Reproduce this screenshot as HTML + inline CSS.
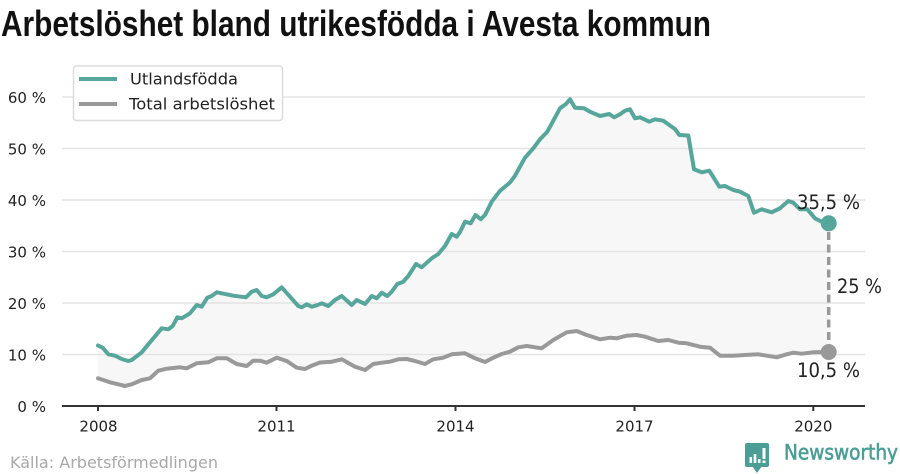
<!DOCTYPE html>
<html>
<head>
<meta charset="utf-8">
<style>
  html, body { margin: 0; padding: 0; background: #ffffff; }
  body { width: 900px; height: 474px; overflow: hidden; }
  svg { display: block; }
  text { font-family: "DejaVu Sans", "Liberation Sans", sans-serif; }
</style>
</head>
<body>
<svg width="900" height="474" viewBox="0 0 900 474" xmlns="http://www.w3.org/2000/svg">
  <!-- Title -->
  <text x="1" y="36" font-weight="bold" font-size="36" fill="#111" textLength="710" lengthAdjust="spacingAndGlyphs" style="font-family:'Liberation Sans',sans-serif">Arbetslöshet bland utrikesfödda i Avesta kommun</text>

  <!-- Fill between series -->
  <polygon fill="#f7f7f7" points="98,345.5 102.7,347.7 108.3,354.3 115,355.7 121.7,359 128.3,361 131.7,360 141.7,352.3 150,342.3 161.7,328.3 168.3,329.3 172.7,326 177.3,317.3 181.7,318.3 190,313.3 196.7,305 201.7,306.7 207.3,297.7 211.7,296 216.7,292.3 233.3,295.7 246,297.3 251.7,291.7 256.7,290 261.7,296 266.7,297.3 273.3,294.3 281.7,287.3 290,296.7 298.3,306 301.7,307.3 306.7,304.3 311.7,306.7 316.7,305.3 321.7,303.3 328.3,306 335,300 341.7,296 351.7,305 356.7,300 365,304 371.7,296 376.7,298.3 381.7,292.7 387.3,296 391.7,291.7 397.3,284 403.3,281.7 408.3,276 416,264 421.7,267.3 431.7,258.3 438.3,254 445,246 451.7,234 456.7,236.7 460,232 465,221.7 470.7,223.3 475.5,215 480.7,219.2 485,215 491.7,201.7 500,190.8 510,182.5 515,175.7 525,157.7 533.3,148.3 540,139.3 547.3,131.7 560,108.3 566,104 570,99.3 575,107.7 584,108.3 590,111.7 600,116 609.3,114 614,117.3 620,114.3 625,110.7 630,109.3 635,118.3 640,117.3 649.3,121.7 655,119.3 663.3,120.7 671.7,126.7 675,129 679.3,135 688.3,135.5 694,169.3 701.7,172.3 709.3,170.7 719.3,186.7 725,186 733.3,190 740,191.7 748.3,196 754,212.7 761.7,209.3 771.7,212.3 780,208.3 788.3,201 793.3,202.7 800,209.3 807.3,209.3 815,218.3 821.7,221.7 828.7,223.3 828.7,352 813.3,352.3 801.7,353.7 793.3,352.7 786.7,354.3 776.7,357.3 766.7,355.7 758.3,354.3 745,355 733.3,355.7 720,355.7 710,347.7 700,346.7 686.7,343.3 678.3,342.7 668.3,340 658.3,341 645,336.7 636.7,335 626.7,335.7 616.7,338.3 610,337.7 600,339.3 586.7,335 576.7,331 566.7,332.3 553.3,340 541.7,348.3 526.7,346 518.3,347.3 510,351.7 501.7,354 493.3,357.7 485,362 475,358.3 465,353.3 451.7,354.3 443.3,357.7 433.3,359.3 425,364 415,361 406.7,359 398.3,359.3 390,361.7 381.7,362.7 373.3,364 365,370 355,366.7 341.7,359.3 331.7,361.7 320,362.5 311.7,365.7 305,369 296.7,367.7 286.7,361 276.7,357.7 266.7,362.7 260,360.7 253.3,360.7 246.7,366 236.7,364 226.7,358.3 216.7,358.3 208.3,362.3 196.7,363.3 186.7,368.3 180,367.3 166.7,368.7 158.3,370.7 150,378.3 141.7,380 131.7,384.3 125,386 118.3,384.3 110,382.3 103.3,380 98,378.3"/>

  <!-- Gridlines -->
  <g stroke="#e4e4e4" stroke-width="1.6">
    <line x1="62" y1="97" x2="865" y2="97"/>
    <line x1="62" y1="148.5" x2="865" y2="148.5"/>
    <line x1="62" y1="200" x2="865" y2="200"/>
    <line x1="62" y1="251.5" x2="865" y2="251.5"/>
    <line x1="62" y1="303" x2="865" y2="303"/>
    <line x1="62" y1="354.5" x2="865" y2="354.5"/>
  </g>

  <!-- Y labels -->
  <g font-size="15" fill="#222" text-anchor="end">
    <text x="46" y="103">60 %</text>
    <text x="46" y="154.5">50 %</text>
    <text x="46" y="206">40 %</text>
    <text x="46" y="257.5">30 %</text>
    <text x="46" y="309">20 %</text>
    <text x="46" y="360.5">10 %</text>
    <text x="46" y="412">0 %</text>
  </g>

  <!-- X axis -->
  <line x1="62" y1="406" x2="865" y2="406" stroke="#333" stroke-width="2"/>
  <g stroke="#333" stroke-width="2">
    <line x1="98" y1="406" x2="98" y2="411"/>
    <line x1="276.5" y1="406" x2="276.5" y2="411"/>
    <line x1="455.5" y1="406" x2="455.5" y2="411"/>
    <line x1="634.5" y1="406" x2="634.5" y2="411"/>
    <line x1="813.3" y1="406" x2="813.3" y2="411"/>
  </g>
  <g font-size="15" fill="#222" text-anchor="middle">
    <text x="98.5" y="431.5">2008</text>
    <text x="276.5" y="431.5">2011</text>
    <text x="455.5" y="431.5">2014</text>
    <text x="634.5" y="431.5">2017</text>
    <text x="813.3" y="431.5">2020</text>
  </g>

  <!-- Gray series -->
  <polyline fill="none" stroke="#999999" stroke-width="4" stroke-linejoin="round" stroke-linecap="round" points="98,378.3 103.3,380 110,382.3 118.3,384.3 125,386 131.7,384.3 141.7,380 150,378.3 158.3,370.7 166.7,368.7 180,367.3 186.7,368.3 196.7,363.3 208.3,362.3 216.7,358.3 226.7,358.3 236.7,364 246.7,366 253.3,360.7 260,360.7 266.7,362.7 276.7,357.7 286.7,361 296.7,367.7 305,369 311.7,365.7 320,362.5 331.7,361.7 341.7,359.3 355,366.7 365,370 373.3,364 381.7,362.7 390,361.7 398.3,359.3 406.7,359 415,361 425,364 433.3,359.3 443.3,357.7 451.7,354.3 465,353.3 475,358.3 485,362 493.3,357.7 501.7,354 510,351.7 518.3,347.3 526.7,346 541.7,348.3 553.3,340 566.7,332.3 576.7,331 586.7,335 600,339.3 610,337.7 616.7,338.3 626.7,335.7 636.7,335 645,336.7 658.3,341 668.3,340 678.3,342.7 686.7,343.3 700,346.7 710,347.7 720,355.7 733.3,355.7 745,355 758.3,354.3 766.7,355.7 776.7,357.3 786.7,354.3 793.3,352.7 801.7,353.7 813.3,352.3 828.7,352"/>

  <!-- Teal series -->
  <polyline fill="none" stroke="#57a69b" stroke-width="4" stroke-linejoin="round" stroke-linecap="round" points="98,345.5 102.7,347.7 108.3,354.3 115,355.7 121.7,359 128.3,361 131.7,360 141.7,352.3 150,342.3 161.7,328.3 168.3,329.3 172.7,326 177.3,317.3 181.7,318.3 190,313.3 196.7,305 201.7,306.7 207.3,297.7 211.7,296 216.7,292.3 233.3,295.7 246,297.3 251.7,291.7 256.7,290 261.7,296 266.7,297.3 273.3,294.3 281.7,287.3 290,296.7 298.3,306 301.7,307.3 306.7,304.3 311.7,306.7 316.7,305.3 321.7,303.3 328.3,306 335,300 341.7,296 351.7,305 356.7,300 365,304 371.7,296 376.7,298.3 381.7,292.7 387.3,296 391.7,291.7 397.3,284 403.3,281.7 408.3,276 416,264 421.7,267.3 431.7,258.3 438.3,254 445,246 451.7,234 456.7,236.7 460,232 465,221.7 470.7,223.3 475.5,215 480.7,219.2 485,215 491.7,201.7 500,190.8 510,182.5 515,175.7 525,157.7 533.3,148.3 540,139.3 547.3,131.7 560,108.3 566,104 570,99.3 575,107.7 584,108.3 590,111.7 600,116 609.3,114 614,117.3 620,114.3 625,110.7 630,109.3 635,118.3 640,117.3 649.3,121.7 655,119.3 663.3,120.7 671.7,126.7 675,129 679.3,135 688.3,135.5 694,169.3 701.7,172.3 709.3,170.7 719.3,186.7 725,186 733.3,190 740,191.7 748.3,196 754,212.7 761.7,209.3 771.7,212.3 780,208.3 788.3,201 793.3,202.7 800,209.3 807.3,209.3 815,218.3 821.7,221.7 828.7,223.3"/>

  <!-- Dashed difference line -->
  <line x1="828.7" y1="232" x2="828.7" y2="344" stroke="#999999" stroke-width="3.5" stroke-dasharray="8,4.5"/>

  <!-- End dots -->
  <circle cx="828.7" cy="223.3" r="8" fill="#57a69b"/>
  <circle cx="828.7" cy="352" r="8" fill="#999999"/>

  <!-- Annotations -->
  <g font-size="19.5" fill="#222">
    <text x="797" y="209" textLength="63" lengthAdjust="spacingAndGlyphs">35,5 %</text>
    <text x="837" y="293" textLength="45" lengthAdjust="spacingAndGlyphs">25 %</text>
    <text x="797" y="377" textLength="63" lengthAdjust="spacingAndGlyphs">10,5 %</text>
  </g>

  <!-- Legend -->
  <rect x="73.5" y="66" width="209" height="54.5" rx="3" ry="3" fill="#ffffff" stroke="#dcdcdc" stroke-width="1.5"/>
  <line x1="79" y1="79" x2="117" y2="79" stroke="#57a69b" stroke-width="4"/>
  <line x1="79" y1="104" x2="117" y2="104" stroke="#999999" stroke-width="4"/>
  <g font-size="16" fill="#222">
    <text x="130" y="84.5" textLength="108" lengthAdjust="spacingAndGlyphs">Utlandsfödda</text>
    <text x="129" y="109.5" textLength="146" lengthAdjust="spacingAndGlyphs">Total arbetslöshet</text>
  </g>

  <!-- Source -->
  <text x="10" y="468" font-size="16" fill="#a8a8a8" textLength="208" lengthAdjust="spacingAndGlyphs">Källa: Arbetsförmedlingen</text>

  <!-- Newsworthy logo -->
  <g>
    <rect x="745" y="443" width="24" height="24" rx="2" fill="#4a9e95"/>
    <polygon points="752,466 762,466 757,473" fill="#4a9e95"/>
    <rect x="749.5" y="457" width="2.6" height="6" fill="#ffffff"/>
    <rect x="753.7" y="454" width="2.6" height="9" fill="#ffffff"/>
    <rect x="757.9" y="459" width="2.6" height="4" fill="#ffffff"/>
    <rect x="762.5" y="448" width="3" height="11" fill="#ffffff"/>
    <rect x="762.5" y="460.5" width="3" height="2.5" fill="#ffffff"/>
  </g>
  <text x="784" y="459.5" font-size="21" fill="#4a9e95" stroke="#4a9e95" stroke-width="0.6" textLength="114" lengthAdjust="spacingAndGlyphs">Newsworthy</text>
</svg>
</body>
</html>
